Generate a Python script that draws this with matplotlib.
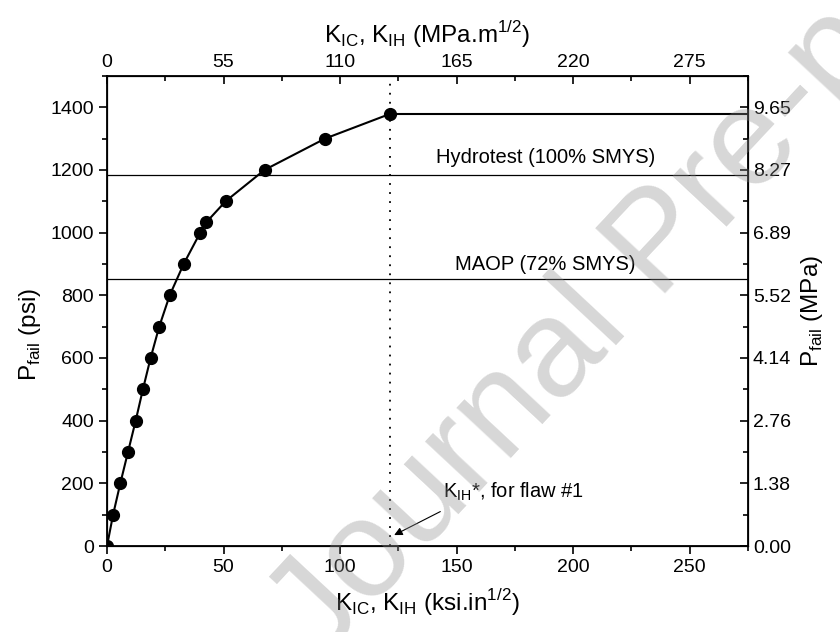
import numpy as np
import matplotlib
matplotlib.use("Agg")
import matplotlib.pyplot as plt
from matplotlib.ticker import MultipleLocator, FixedLocator

plt.rcParams['font.family'] = ['Liberation Sans', 'DejaVu Sans']

# K (ksi.in^1/2) vs failure pressure (psi)
k_ksi = [0, 2.6, 5.7, 9.0, 12.3, 15.4, 18.7, 22.4, 26.9, 32.9, 40.0, 42.6, 50.9, 67.6, 93.6, 121.2]
p_fail = [0, 100, 200, 300, 400, 500, 600, 700, 800, 900, 1000, 1033, 1100, 1200, 1300, 1378]
k_star = 121.2
p_plateau = 1378
hydrotest = 1184
maop = 852

psi_ticks = [0, 200, 400, 600, 800, 1000, 1200, 1400]
mpa_labels = ['0.00', '1.38', '2.76', '4.14', '5.52', '6.89', '8.27', '9.65']
top_ticks = [0, 55, 110, 165, 220, 275]

xmax = 275
ymax = 1500

fig = plt.figure(figsize=(8.4, 6.32), dpi=100)
ax = fig.add_axes([0.1274, 0.136, 0.7631, 0.744])

ax.plot(k_ksi, p_fail, '-o', color='black', lw=1.5, ms=8.5, zorder=3)
ax.plot([k_star, xmax], [p_plateau, p_plateau], '-', color='black', lw=1.5, zorder=3)
ax.axhline(hydrotest, color='black', lw=0.9)
ax.axhline(maop, color='black', lw=0.9)
ax.axvline(k_star, color='black', lw=1.3, ls=(0, (1, 4)))

ax.text(188, 1240, 'Hydrotest (100% SMYS)', ha='center', va='center', fontsize=14.5)
ax.text(188, 897, 'MAOP (72% SMYS)', ha='center', va='center', fontsize=14.5)
ax.text(144, 172, r'K$_{\mathregular{IH}}$*, for flaw #1', ha='left', va='center', fontsize=14.5)
ax.annotate('', xy=(k_star + 2, 35), xytext=(143, 110),
            arrowprops=dict(arrowstyle='-|>', color='black', lw=0.8, mutation_scale=12,
                            shrinkA=0, shrinkB=0))

ax.set_xlim(0, xmax)
ax.set_ylim(0, ymax)
ax.xaxis.set_major_locator(MultipleLocator(50))
ax.xaxis.set_minor_locator(MultipleLocator(25))
ax.yaxis.set_major_locator(FixedLocator(psi_ticks))
ax.yaxis.set_minor_locator(MultipleLocator(100))
ax.tick_params(which='both', direction='out', labelsize=14, width=1.2)
ax.tick_params(which='major', length=6)
ax.tick_params(which='minor', length=3.5)
for s in ax.spines.values():
    s.set_linewidth(1.3)

ax.set_xlabel(r'K$_{\mathregular{IC}}$, K$_{\mathregular{IH}}$ (ksi.in$^{\mathregular{1/2}}$)', fontsize=17.5, labelpad=8)
ax.set_ylabel(r'P$_{\mathregular{fail}}$ (psi)', fontsize=17.5)
ax.yaxis.set_label_coords(-0.1, 0.45)

# right axis in MPa
axr = ax.twinx()
axr.set_ylim(0, ymax)
axr.yaxis.set_major_locator(FixedLocator(psi_ticks))
axr.set_yticklabels(mpa_labels)
axr.yaxis.set_minor_locator(MultipleLocator(100))
axr.tick_params(which='both', direction='in', labelsize=14, width=1.2)
axr.tick_params(which='major', length=6)
axr.tick_params(which='minor', length=3.5)
axr.set_ylabel(r'P$_{\mathregular{fail}}$ (MPa)', fontsize=17.5, labelpad=6)

# top axis in MPa.m^1/2
axt = ax.twiny()
axt.set_xlim(0, xmax * 1.1)
axt.xaxis.set_major_locator(FixedLocator(top_ticks))
axt.xaxis.set_minor_locator(MultipleLocator(27.5))
axt.tick_params(which='both', direction='in', labelsize=14, width=1.2)
axt.tick_params(which='major', length=6)
axt.tick_params(which='minor', length=3.5)
axt.set_xlabel(r'K$_{\mathregular{IC}}$, K$_{\mathregular{IH}}$ (MPa.m$^{\mathregular{1/2}}$)', fontsize=17.5, labelpad=8)

# watermark
fig.text(0.786, 0.612, 'Journal Pre-proof', fontsize=100, color='0.55', alpha=0.35,
         rotation=47, ha='center', va='center', zorder=10)

fig.savefig('out.png', dpi=100)
